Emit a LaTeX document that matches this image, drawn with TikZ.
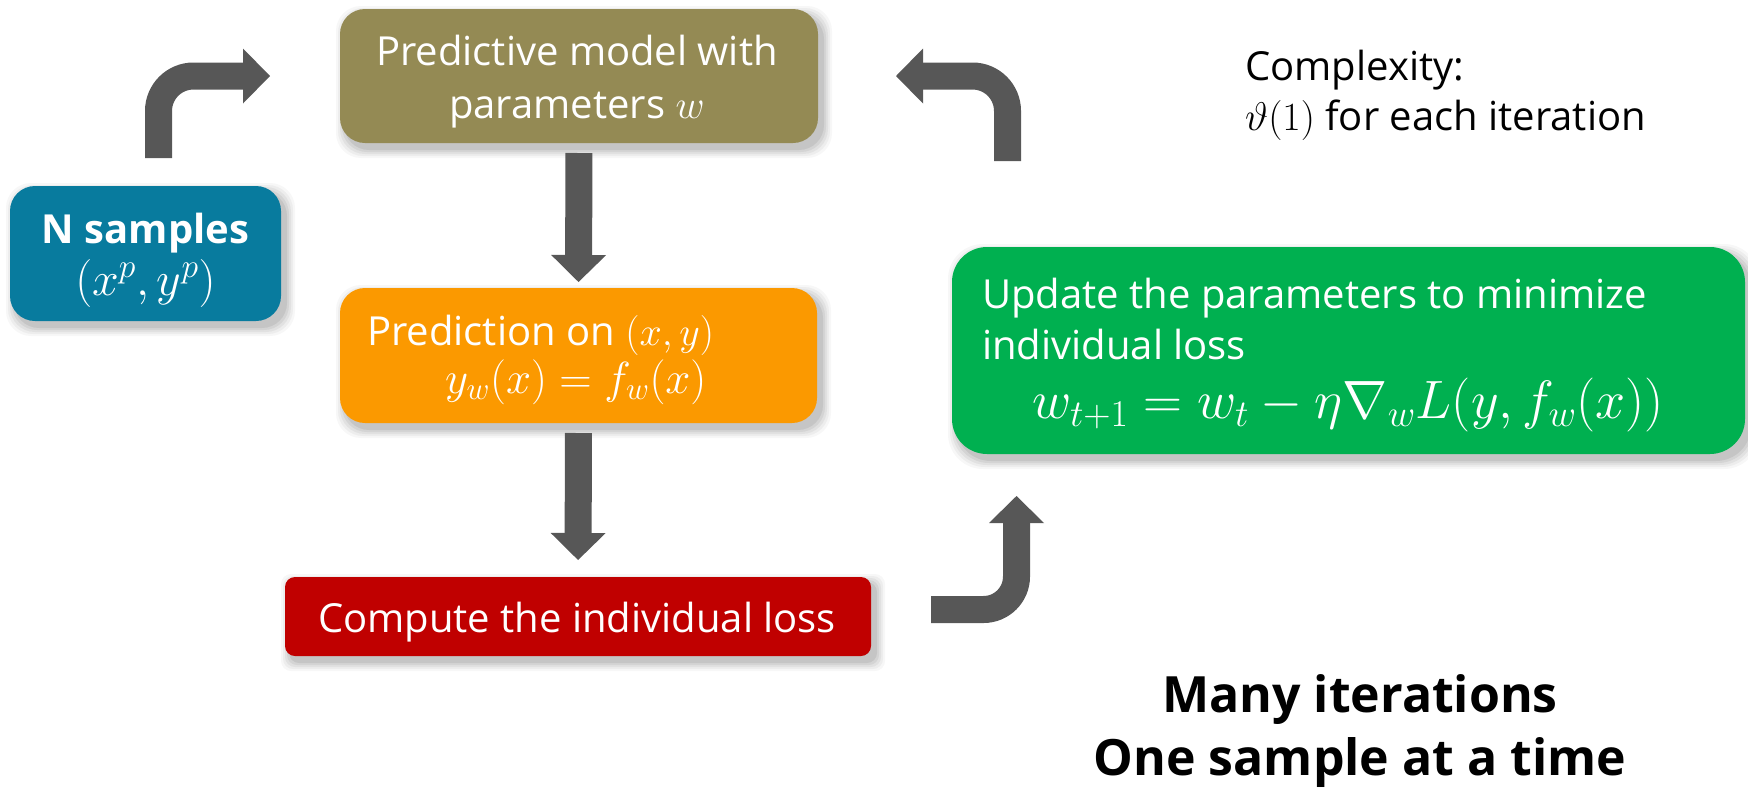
\RequirePackage{fix-cm}
\documentclass[tikz,border=0pt]{standalone}
\usepackage[no-math]{fontspec}
\setmainfont{Open Sans}
\usetikzlibrary{arrows.meta,calc,backgrounds}

\definecolor{boxolive}{HTML}{948A54}
\definecolor{boxteal}{HTML}{087B9E}
\definecolor{boxorange}{HTML}{FB9900}
\definecolor{boxred}{HTML}{C00000}
\definecolor{boxgreen}{HTML}{00B050}
\definecolor{arrowgray}{HTML}{575757}

\tikzset{
  box/.style={rounded corners=#1, inner sep=0pt, outer sep=0pt},
  bodytext/.style={text=white, font=\fontsize{40}{53}\selectfont, inner sep=0pt},
  plaintext/.style={text=black, font=\fontsize{40}{50}\selectfont, inner sep=0pt},
  blockarrow/.style={draw=arrowgray, line width=27pt,
    -{Triangle[length=27pt,width=55pt,line width=0pt]}},
}

% soft drop shadow under a named box
\newcommand\boxshadow[2]{%
  \begin{pgfonlayer}{background}
    \foreach \s/\o in {9/0.03,7/0.04,5/0.05,3/0.06,1/0.07}{
      \fill[black, opacity=\o, rounded corners=#2]
        ($(#1.north west)+(5-\s,6-\s)$) rectangle ($(#1.south east)+(5+\s,6+\s)$);
    }
  \end{pgfonlayer}}

\begin{document}
\begin{tikzpicture}[x=1pt,y=-1pt]
\useasboundingbox (0,0) rectangle (1748,788);

% boxes
\node[box=25pt, fill=boxolive, minimum width=478pt, minimum height=134pt] (olive) at (579,76) {};
\node[box=25pt, fill=boxteal, minimum width=271pt, minimum height=135pt] (teal) at (145.5,253.5) {};
\node[box=25pt, fill=boxorange, minimum width=477pt, minimum height=135pt] (orange) at (578.5,355.5) {};
\node[box=10pt, fill=boxred, minimum width=586pt, minimum height=79pt] (red) at (578,616.5) {};
\node[box=35pt, fill=boxgreen, minimum width=793pt, minimum height=207pt] (green) at (1348.5,350.5) {};

\boxshadow{olive}{25pt}
\boxshadow{teal}{25pt}
\boxshadow{orange}{25pt}
\boxshadow{red}{10pt}
\boxshadow{green}{35pt}

% texts (multi-line nodes are placed by the baseline of their last line)
\node[bodytext, anchor=base, align=center] (oliveT) at (577,118) {Predictive model with\\parameters $w$};
\node[bodytext, anchor=base, font=\fontsize{40}{50}\selectfont\bfseries] (tealT) at (145.5,243) {N samples};
\node[bodytext, anchor=base, font=\fontsize{48}{58}\selectfont] (tealM) at (145.5,295) {$(x^p, y^p)$};
\node[bodytext, anchor=base west] (orangeT) at (367,345) {Prediction on $(x,y)$};
\node[bodytext, anchor=base west, font=\fontsize{45}{55}\selectfont] (orangeM) at (445,393) {$y_w(x) = f_w(x)$};
\node[bodytext, anchor=base] (redT) at (577,632) {Compute the individual loss};
\node[bodytext, anchor=base west, align=left, font=\fontsize{40}{51}\selectfont] (greenT) at (982,359) {Update the parameters to minimize\\individual loss};
\node[bodytext, anchor=base west, font=\fontsize{54}{64}\selectfont] (greenM) at (1032,418) {$w_{t+1} = w_t - \eta\nabla_w L(y, f_w(x))$};
\node[plaintext, anchor=base west, align=left] (cplx) at (1245,130) {Complexity:\\$\vartheta(1)$ for each iteration};
\node[plaintext, anchor=base, align=center, font=\fontsize{50}{63}\selectfont\bfseries] (many) at (1360,775) {Many iterations\\One sample at a time};

% connectors
\draw[blockarrow, rounded corners=35pt, shorten <=28pt, shorten >=70pt]
  ([xshift=13pt]teal.north) |- (olive.west);
\draw[blockarrow, shorten <=10pt, shorten >=6pt] (olive.south) -- (orange.north);
\draw[blockarrow, shorten <=10pt, shorten >=17pt] (orange.south) -- (red.north);
\draw[blockarrow, rounded corners=33pt, shorten <=60pt, shorten >=42pt]
  ([yshift=7pt]red.east) -| ([xshift=64.5pt]green.south west);
\draw[blockarrow, rounded corners=35pt, shorten <=86pt, shorten >=78pt]
  ([xshift=55.5pt]green.north west) |- (olive.east);
\end{tikzpicture}
\end{document}
